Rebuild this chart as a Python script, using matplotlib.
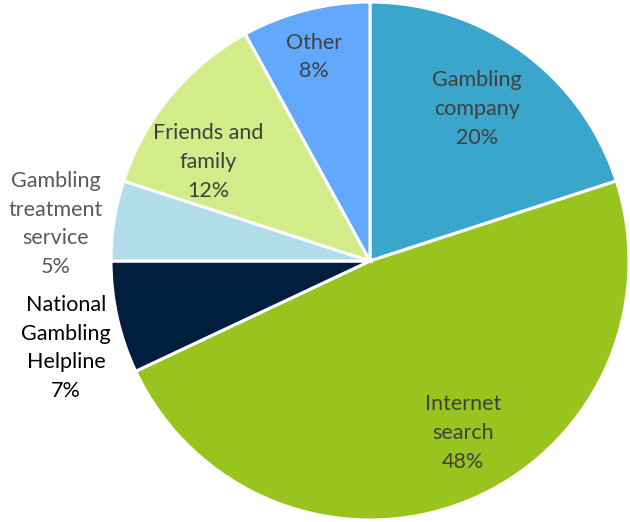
import matplotlib
matplotlib.use("Agg")
import matplotlib.pyplot as plt

categories = ["Gambling\ncompany", "Internet\nsearch", "National\nGambling\nHelpline",
              "Gambling\ntreatment\nservice", "Friends and\nfamily", "Other"]
shares = [20, 48, 7, 5, 12, 8]
colors = ["#3BA6CC", "#97C41D", "#001F3F", "#B1DDEB", "#D3EB88", "#62A9FD"]
text_colors = ["#404040", "#404040", "#000000", "#595959", "#404040", "#404040"]
# label anchor points in pixel coords (x, y from top)
label_pos = [(477, 109), (463, 433), (66, 348), (56, 224), (208, 162), (314, 57)]

plt.rcParams['font.family'] = ['Lato', 'DejaVu Sans']

W, H = 630, 522
fig = plt.figure(figsize=(W / 100, H / 100), dpi=100)
ax = fig.add_axes([0, 0, 1, 1])

ax.pie(shares, colors=colors, startangle=90, counterclock=False,
       center=(370, H - 261), radius=259, frame=True,
       wedgeprops=dict(edgecolor='white', linewidth=2.2))
ax.set_xlim(0, W)
ax.set_ylim(0, H)
ax.set_aspect('equal')
ax.axis('off')

for name, val, (x, y), tc in zip(categories, shares, label_pos, text_colors):
    ax.text(x, H - y, f"{name}\n{val}%", ha='center', va='center',
            fontsize=15.5, color=tc, linespacing=1.55)

fig.savefig("out.png", dpi=100)
